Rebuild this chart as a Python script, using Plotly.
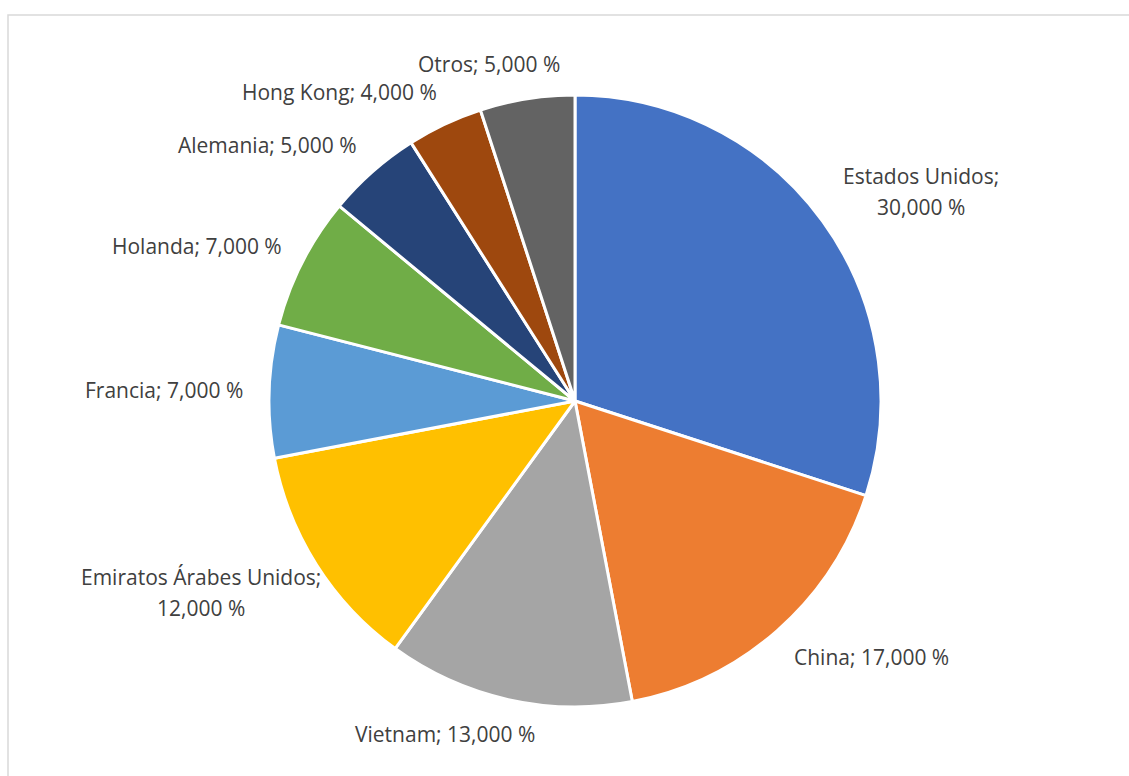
import math
import plotly.graph_objects as go

# Export destinations (share of total, %)
countries = ["Estados Unidos", "China", "Vietnam", "Emiratos Árabes Unidos",
             "Francia", "Holanda", "Alemania", "Hong Kong", "Otros"]
shares = [30, 17, 13, 12, 7, 7, 5, 4, 5]
slice_colors = ["#4472C4", "#ED7D31", "#A5A5A5", "#FFC000", "#5B9BD5",
                "#70AD47", "#264478", "#9E480E", "#636363"]

W, H = 1129, 776
CX, CY, R = 575, 401, 306          # pie centre and radius in pixels
LABEL_R = R + 24                    # where each label is anchored
LEFT_LIMIT = 80                     # labels stay right of this x
LINE_STEP = 31                      # spacing between wrapped label lines
FONT = "Open Sans"
FONT_SIZE = 21
CHAR_W = 10.5
TEXT_COLOR = "#404040"


def label_lines(name, value):
    num = f"{value:.3f}".replace(".", ",")
    if len(name) > 12:
        return [f"{name};", f"{num} %"]
    return [f"{name}; {num} %"]


fig = go.Figure(go.Pie(
    labels=countries,
    values=shares,
    sort=False,
    direction="clockwise",
    rotation=0,
    marker=dict(colors=slice_colors, line=dict(color="white", width=3)),
    textinfo="none",
    hoverinfo="label+percent",
    domain=dict(x=[(CX - R) / W, (CX + R) / W],
                y=[1 - (CY + R) / H, 1 - (CY - R) / H]),
    showlegend=False,
))

# Data labels outside each slice, anchored on the slice's mid-angle
total = sum(shares)
cum = 0.0
annotations = []
for name, v in zip(countries, shares):
    mid = (cum + v / 2) / total * 2 * math.pi
    cum += v
    dx, dy = math.sin(mid), -math.cos(mid)   # screen coords, y down
    ax, ay = CX + dx * LABEL_R, CY + dy * LABEL_R
    lines = label_lines(name, v)
    w = CHAR_W * max(len(s) for s in lines)
    h = LINE_STEP * len(lines) - 9
    sx = max(-1.0, min(1.0, 3 * dx))
    sy = dy
    px, py = ax + sx * w / 2, ay + sy * h / 2
    px = max(px, LEFT_LIMIT + w / 2)
    for i, line in enumerate(lines):
        ly = py + (i - (len(lines) - 1) / 2) * LINE_STEP
        annotations.append(dict(
            x=px / W, y=1 - ly / H, xref="paper", yref="paper",
            text=line, showarrow=False, xanchor="center", yanchor="middle",
            font=dict(family=FONT, size=FONT_SIZE, color=TEXT_COLOR),
        ))

fig.update_layout(
    width=W, height=H,
    margin=dict(l=0, r=0, t=0, b=0),
    paper_bgcolor="white",
    plot_bgcolor="white",
    annotations=annotations,
    shapes=[dict(type="rect", xref="paper", yref="paper",
                 x0=8 / W, x1=1.05, y0=-0.05, y1=1 - 15 / H,
                 line=dict(color="#D9D9D9", width=1.5), layer="below")],
)

fig.write_html("out.html")
